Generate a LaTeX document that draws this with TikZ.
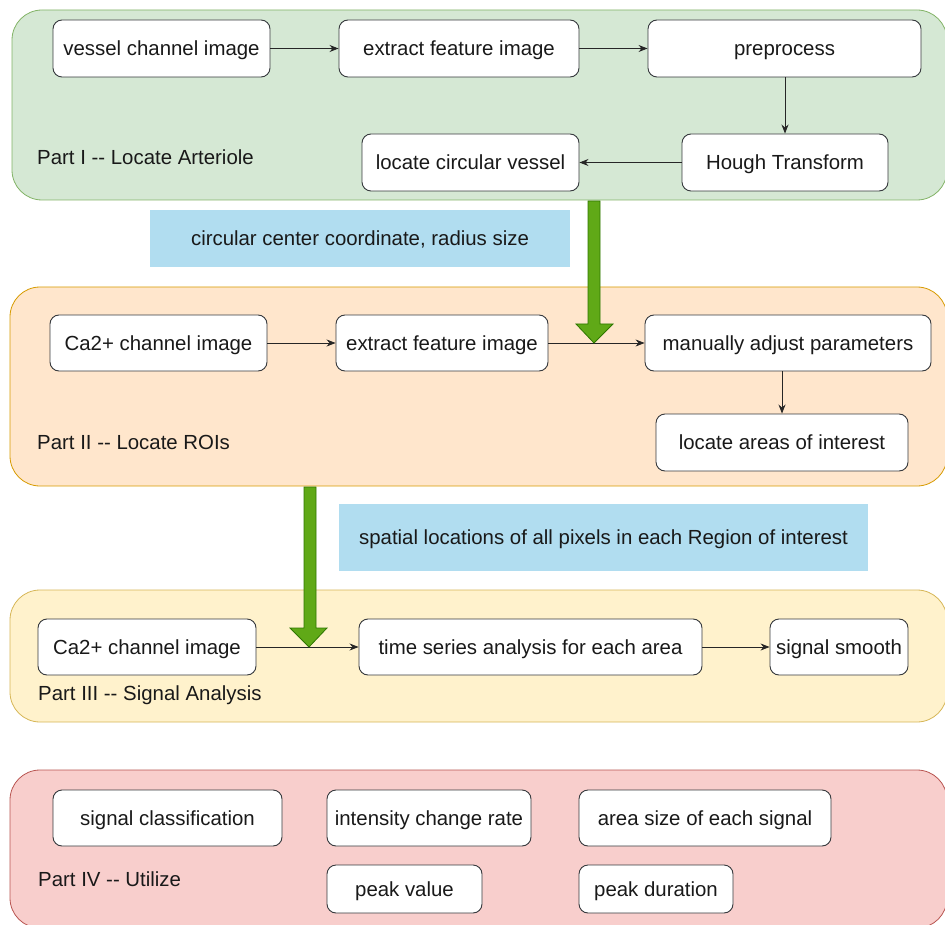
\documentclass[tikz,border=0pt]{standalone}
\usepackage{fontspec}
\newfontfamily\diagfont{Liberation Sans}
\usetikzlibrary{arrows.meta}

\definecolor{pIfill}{HTML}{D5E8D4}
\definecolor{pIdraw}{HTML}{82B366}
\definecolor{pIIfill}{HTML}{FFE6CC}
\definecolor{pIIdraw}{HTML}{D79B00}
\definecolor{pIIIfill}{HTML}{FFF2CC}
\definecolor{pIIIdraw}{HTML}{D6B656}
\definecolor{pIVfill}{HTML}{F8CECC}
\definecolor{pIVdraw}{HTML}{B85450}
\definecolor{notefill}{HTML}{B1DDF0}
\definecolor{flowfill}{HTML}{60A917}
\definecolor{flowdraw}{HTML}{2D7600}
\definecolor{boxline}{HTML}{36393D}

\begin{document}
\begin{tikzpicture}[x=1pt,y=-1pt,
  txt/.style={font=\diagfont\fontsize{20.4}{24}\selectfont, text=black!90,
    text height=18.5pt, text depth=4.3pt},
  part/.style={rounded corners=30pt, line width=0.8pt, inner sep=0pt},
  stepbox/.style={txt, draw=boxline, fill=white, rounded corners=9pt, line width=0.9pt, inner sep=0pt},
  note/.style={txt, fill=notefill, inner sep=0pt},
  partlabel/.style={txt, anchor=west, inner sep=0pt},
  link/.style={draw=black!85, line width=0.8pt, -{Stealth[length=9pt,width=7pt]}},
  flow/.style={fill=flowfill, draw=flowdraw, line width=0.8pt, line join=miter},
]
\useasboundingbox (0,0) rectangle (945,925);

% ---------- containers ----------
\draw[part, fill=pIfill, draw=pIdraw] (12,10) rectangle (947,200);
\draw[part, fill=pIIfill, draw=pIIdraw] (10,287) rectangle (947,486);
\draw[part, fill=pIIIfill, draw=pIIIdraw] (10,590) rectangle (947,722);
\draw[part, fill=pIVfill, draw=pIVdraw] (10,770) rectangle (947,928);

% ---------- Part I ----------
\node[stepbox, minimum width=217pt, minimum height=57pt] (vci) at (161.5,48.5) {vessel channel image};
\node[stepbox, minimum width=240pt, minimum height=57pt] (efi) at (459,48.5) {extract feature image};
\node[stepbox, minimum width=273pt, minimum height=57pt] (pre) at (784.5,48.5) {preprocess};
\node[stepbox, minimum width=206pt, minimum height=57pt] (hough) at (785,162.5) {Hough Transform};
\node[stepbox, minimum width=217pt, minimum height=57pt] (lcv) at (470.5,162.5) {locate circular vessel};
\node[partlabel] (lblI) at (37,157) {Part I -{}- Locate Arteriole};

\draw[link] (vci) -- (efi);
\draw[link] (efi) -- (pre);
\draw[link] (pre.south -| hough.north) -- (hough.north);
\draw[link] (hough) -- (lcv);

\node[note, minimum width=420pt, minimum height=57pt] (noteI) at (360,238.5) {circular center coordinate, radius size};

% ---------- Part II ----------
\node[stepbox, minimum width=217pt, minimum height=56pt] (ca1) at (158.5,343) {Ca2+ channel image};
\node[stepbox, minimum width=212pt, minimum height=56pt] (efi2) at (442,343) {extract feature image};
\node[stepbox, minimum width=286pt, minimum height=56pt] (map) at (788,343) {manually adjust parameters};
\node[stepbox, minimum width=252pt, minimum height=57pt] (lai) at (782,442.5) {locate areas of interest};
\node[partlabel] (lblII) at (37,442) {Part II -{}- Locate ROIs};

\draw[link] (ca1) -- (efi2);
\draw[link] (efi2) -- (map);
\draw[link] (map.south -| lai.north) -- (lai.north);

\node[note, minimum width=529pt, minimum height=67pt] (noteII) at (603.5,537.5) {spatial locations of all pixels in each Region of interest};

% ---------- Part III ----------
\node[stepbox, minimum width=218pt, minimum height=56pt] (ca2) at (147,647) {Ca2+ channel image};
\node[stepbox, minimum width=343pt, minimum height=56pt] (tsa) at (530.5,647) {time series analysis for each area};
\node[stepbox, minimum width=138pt, minimum height=56pt] (ss) at (839,647) {signal smooth};
\node[partlabel] (lblIII) at (38,693) {Part III -{}- Signal Analysis};

\draw[link] (ca2) -- (tsa);
\draw[link] (tsa) -- (ss);

% ---------- Part IV ----------
\node[stepbox, minimum width=229pt, minimum height=56pt] (sc) at (167.5,818) {signal classification};
\node[stepbox, minimum width=204pt, minimum height=56pt] (icr) at (429,818) {intensity change rate};
\node[stepbox, minimum width=252pt, minimum height=56pt] (asz) at (705,818) {area size of each signal};
\node[stepbox, minimum width=155pt, minimum height=48pt] (pv) at (404.5,889) {peak value};
\node[stepbox, minimum width=154pt, minimum height=48pt] (pd) at (656,889) {peak duration};
\node[partlabel] (lblIV) at (38,879) {Part IV -{}- Utilize};

% ---------- hand-over arrows between parts ----------
\coordinate (tipI) at (594,343);
\coordinate (tipII) at (309,647);
\path[flow] (588,201) -- (600,201) -- (600,324) -- (613,324) -- (tipI)
  -- (576,324) -- (588,324) -- cycle;
\path[flow] (304,487) -- (316,487) -- (316,628) -- (327,628) -- (tipII)
  -- (290,628) -- (304,628) -- cycle;
\end{tikzpicture}
\end{document}
